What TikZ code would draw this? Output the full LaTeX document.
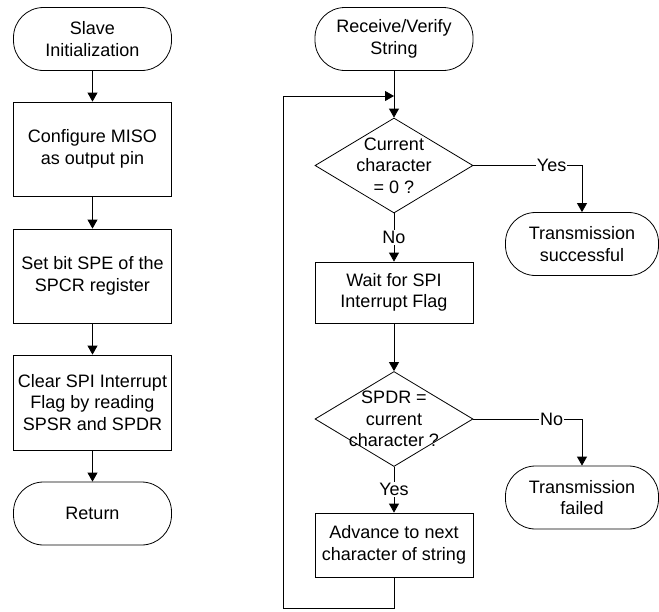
\documentclass[tikz,border=0pt]{standalone}
\usepackage{fontspec}
\setmainfont{Liberation Sans}
\usetikzlibrary{arrows.meta,shapes.geometric}

\begin{document}
\begin{tikzpicture}[x=1pt,y=-1pt,line width=0.8pt,
  txt/.style={font=\fontsize{18}{21.5}\selectfont,align=center},
  term/.style={txt,draw,rectangle,rounded corners=30pt,minimum height=63pt},
  proc/.style={txt,draw,rectangle,minimum width=158pt},
  decide/.style={draw,diamond,minimum width=158pt,minimum height=95pt,inner sep=0pt},
  lbl/.style={txt,fill=white,inner sep=1pt},
  arr/.style={-{Triangle[length=9pt,width=10pt]}}]
  \useasboundingbox (0,0) rectangle (659,611);

  % slave initialization
  \node[term,minimum width=158pt] (init) at (92.5,39) {Slave\\Initialization};
  \node[proc,minimum height=94pt] (miso) at (92.5,149) {Configure MISO\\as output pin};
  \node[proc,minimum height=94pt] (spe) at (92.5,276) {Set bit SPE of the\\SPCR register};
  \node[proc,minimum height=95pt] (clr) at (92.5,402.5) {Clear SPI Interrupt\\Flag by reading\\SPSR and SPDR};
  \node[term,minimum width=158pt] (ret) at (92.5,513.5) {Return};
  \draw[arr] (init) -- (miso);
  \draw[arr] (miso) -- (spe);
  \draw[arr] (spe) -- (clr);
  \draw[arr] (clr) -- (ret);

  % receive / verify string
  \node[term,minimum width=158pt] (recv) at (394,39) {Receive/Verify\\String};
  \node[decide] (zero) at (394,165.5) {};
  \node[txt] (zerot) at (zero) {Current\\character\\= 0 ?};
  \node[proc,minimum height=61pt] (wait) at (394,292.5) {Wait for SPI\\Interrupt Flag};
  \node[decide] (cmp) at (394,419) {};
  \node[txt] (cmpt) at (cmp) {SPDR =\\current\\character ?};
  \node[proc,minimum height=64pt] (adv) at (394,545) {Advance to next\\character of string};
  \node[term,minimum width=153pt] (succ) at (582,244) {Transmission\\successful};
  \node[term,minimum width=153pt] (fail) at (582,497.5) {Transmission\\failed};
  \coordinate (loopb) at (283,608);
  \coordinate (loopt) at (283,96);
  \coordinate (join) at (394,96);

  \draw[arr] (recv) -- (zero);
  \draw[arr] (zero) -- node[lbl] {No} (wait);
  \draw[arr] (zero.east) -| node[lbl,pos=0.36] {Yes} (succ);
  \draw[arr] (wait) -- (cmp);
  \draw[arr] (cmp) -- node[lbl] {Yes} (adv);
  \draw[arr] (cmp.east) -| node[lbl,pos=0.36] {No} (fail);
  \draw[arr] (adv) |- (loopb) -- (loopt) -- (join);
\end{tikzpicture}
\end{document}
